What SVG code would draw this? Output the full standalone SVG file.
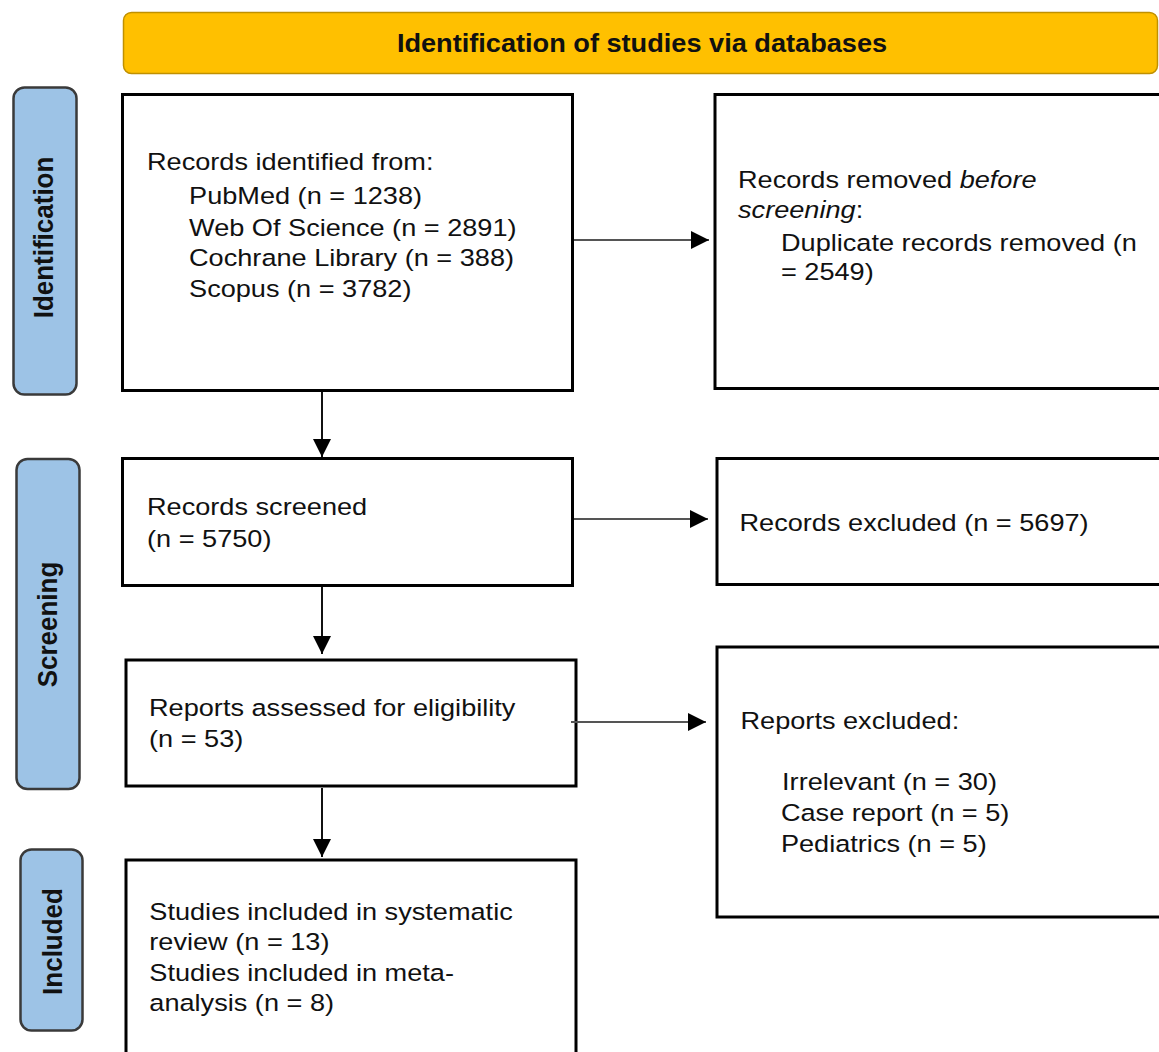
<svg xmlns="http://www.w3.org/2000/svg" width="1159" height="1052" viewBox="0 0 1159 1052">
  <style>
    .box { fill: #ffffff; stroke: #000000; stroke-width: 3; }
    .lab { fill: #9DC3E6; stroke: #3a3a3a; stroke-width: 2.5; }
    .ban { fill: #FFC000; stroke: #C09000; stroke-width: 1.5; }
    .t { font-family: "Liberation Sans", Arial, sans-serif; font-size: 23.5px; fill: #111111; }
    .b { font-family: "Liberation Sans", Arial, sans-serif; font-weight: bold; fill: #111111; }
    .it { font-style: italic; }
    .c { fill: none; stroke-width: 2; }
    .h { stroke: #555555; }
    .v { stroke: #111111; }
  </style>
  <defs>
    <marker id="ah" viewBox="0 0 18 18" refX="18" refY="9" markerWidth="18" markerHeight="18" markerUnits="userSpaceOnUse" orient="auto">
      <path d="M0,0 L18,9 L0,18 z" fill="#000000"/>
    </marker>
  </defs>

  <g id="banner">
    <rect class="ban" x="123.5" y="12.5" width="1034" height="61" rx="8"/>
    <text class="b" font-size="25.5" text-anchor="middle" transform="translate(642 52) scale(1.065 1)" x="0" y="0">Identification of studies via databases</text>
  </g>

  <g id="label-identification">
    <rect class="lab" x="13.5" y="87.5" width="63" height="307" rx="11"/>
    <text class="b" font-size="26" text-anchor="middle" transform="translate(53 237.5) scale(1.07 1) rotate(-90)" x="0" y="0">Identification</text>
  </g>
  <g id="label-screening">
    <rect class="lab" x="16.5" y="459" width="63" height="330" rx="11"/>
    <text class="b" font-size="26" text-anchor="middle" transform="translate(56.5 624.5) scale(1.07 1) rotate(-90)" x="0" y="0">Screening</text>
  </g>
  <g id="label-included">
    <rect class="lab" x="20.5" y="849.5" width="62" height="181" rx="11"/>
    <text class="b" font-size="26" text-anchor="middle" transform="translate(62 941.5) scale(1.07 1) rotate(-90)" x="0" y="0">Included</text>
  </g>

  <g id="records-identified">
    <rect class="box" x="122.5" y="94.5" width="450" height="296"/>
    <text class="t" transform="translate(147 0) scale(1.155 1)">
      <tspan x="0" y="170.5">Records identified from:</tspan>
      <tspan x="36.4" y="204.5">PubMed (n = 1238)</tspan>
      <tspan x="36.4" y="236">Web Of Science (n = 2891)</tspan>
      <tspan x="36.4" y="266.5">Cochrane Library (n = 388)</tspan>
      <tspan x="36.4" y="297.5">Scopus (n = 3782)</tspan>
    </text>
  </g>

  <g id="records-removed">
    <rect class="box" x="715" y="94.5" width="470" height="294"/>
    <text class="t" transform="translate(738 0) scale(1.155 1)">
      <tspan x="0" y="188.5">Records removed <tspan class="it">before</tspan></tspan>
      <tspan x="0" y="218.5"><tspan class="it">screening</tspan>:</tspan>
      <tspan x="37.2" y="251">Duplicate records removed (n</tspan>
      <tspan x="37.2" y="280.5">= 2549)</tspan>
    </text>
  </g>

  <g id="records-screened">
    <rect class="box" x="122.5" y="458.5" width="450" height="127"/>
    <text class="t" transform="translate(147 0) scale(1.155 1)">
      <tspan x="0" y="515">Records screened</tspan>
      <tspan x="0" y="547">(n = 5750)</tspan>
    </text>
  </g>

  <g id="records-excluded">
    <rect class="box" x="717" y="458.5" width="470" height="126"/>
    <text class="t" transform="translate(739.5 0) scale(1.155 1)">
      <tspan x="0" y="531">Records excluded (n = 5697)</tspan>
    </text>
  </g>

  <g id="reports-assessed">
    <rect class="box" x="126" y="660" width="450" height="126"/>
    <text class="t" transform="translate(149 0) scale(1.155 1)">
      <tspan x="0" y="716">Reports assessed for eligibility</tspan>
      <tspan x="0" y="747.5">(n = 53)</tspan>
    </text>
  </g>

  <g id="reports-excluded">
    <rect class="box" x="717" y="647" width="470" height="270"/>
    <text class="t" transform="translate(740.5 0) scale(1.155 1)">
      <tspan x="0" y="729.5">Reports excluded:</tspan>
      <tspan x="36" y="790">Irrelevant (n = 30)</tspan>
      <tspan x="35" y="821">Case report (n = 5)</tspan>
      <tspan x="35" y="852.5">Pediatrics (n = 5)</tspan>
    </text>
  </g>

  <g id="studies-included">
    <rect class="box" x="126" y="860" width="450" height="230"/>
    <text class="t" transform="translate(149.3 0) scale(1.155 1)">
      <tspan x="0" y="920.5">Studies included in systematic</tspan>
      <tspan x="0" y="950.5">review (n = 13)</tspan>
      <tspan x="0" y="981.5">Studies included in meta-</tspan>
      <tspan x="0" y="1011.5">analysis (n = 8)</tspan>
    </text>
  </g>

  <g id="connectors">
    <path class="c h" d="M574,240 H709" marker-end="url(#ah)"/>
    <path class="c v" d="M322,392 V457" marker-end="url(#ah)"/>
    <path class="c h" d="M574,519 H708" marker-end="url(#ah)"/>
    <path class="c v" d="M322,587 V654" marker-end="url(#ah)"/>
    <path class="c h" d="M571,722 H706" marker-end="url(#ah)"/>
    <path class="c v" d="M322,788 V857" marker-end="url(#ah)"/>
  </g>
</svg>
